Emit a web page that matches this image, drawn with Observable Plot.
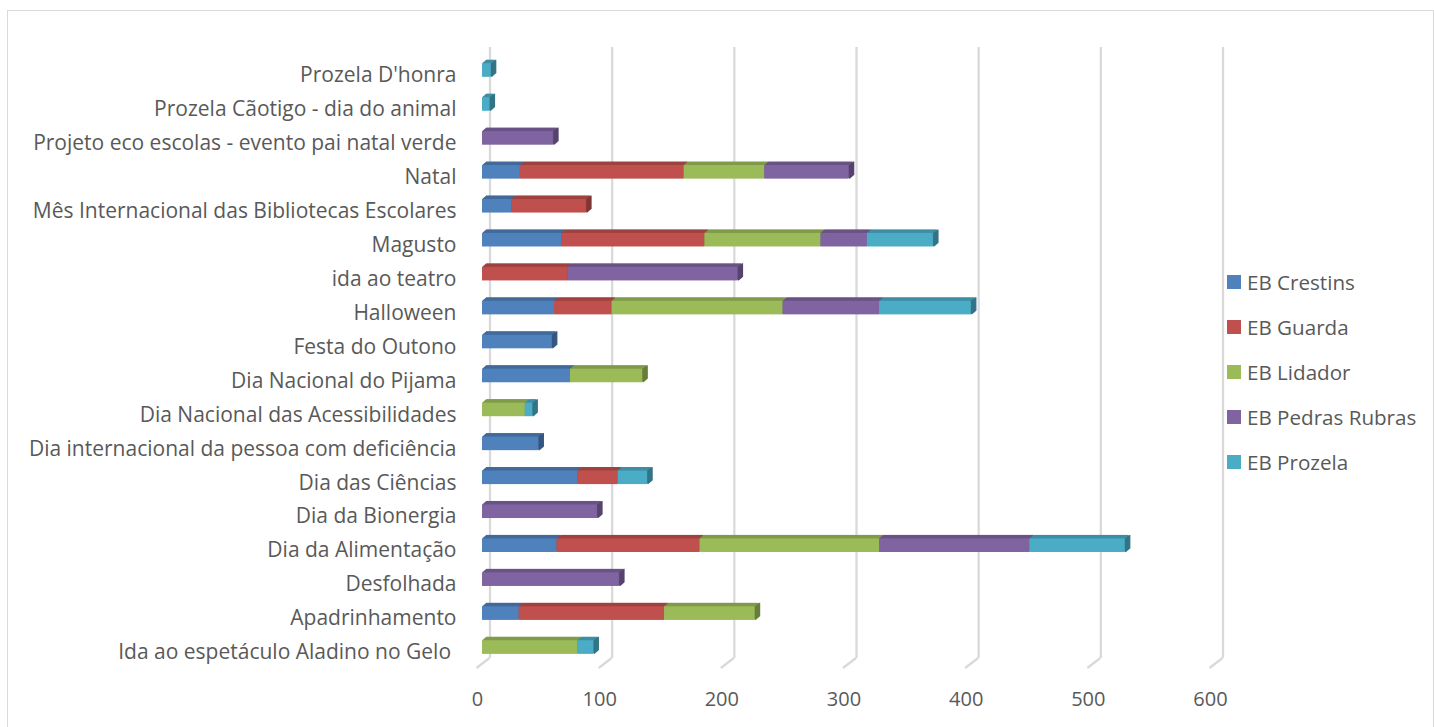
<!DOCTYPE html>
<html><head><meta charset="utf-8">
<script src="https://cdn.jsdelivr.net/npm/d3@7"></script>
<script src="https://cdn.jsdelivr.net/npm/@observablehq/plot@0.6"></script>
<style>
html,body{margin:0;padding:0;background:#fff;overflow:hidden;}
#wrap{position:relative;width:1434px;height:727px;font-family:"Open Sans",sans-serif;color:#595959;}
#frame{position:absolute;left:7px;top:10px;width:1427px;height:730px;border:1px solid #d9d9d9;box-sizing:border-box;}
#chart{position:absolute;left:0;top:0;}
#legend{position:absolute;left:1227px;top:0;}
.item{position:absolute;left:0;white-space:nowrap;display:flex;align-items:center;height:30px;font-size:20.6px;}
.sw{width:14px;height:14px;margin-right:6px;flex:none;}
</style></head>
<body><div id="wrap"><div id="frame"></div><div id="chart"></div><div id="legend"></div></div>
<script>
const categories = [
  "Prozela D'honra",
  "Prozela Cãotigo - dia do animal",
  "Projeto eco escolas - evento pai natal verde",
  "Natal",
  "Mês Internacional das Bibliotecas Escolares",
  "Magusto",
  "ida ao teatro",
  "Halloween",
  "Festa do Outono",
  "Dia Nacional do Pijama",
  "Dia Nacional das Acessibilidades",
  "Dia internacional da pessoa com deficiência",
  "Dia das Ciências",
  "Dia da Bionergia",
  "Dia da Alimentação",
  "Desfolhada",
  "Apadrinhamento",
  "Ida ao espetáculo Aladino no Gelo\u00a0"
];
const ebCrestins     = [0, 0,  0,  31, 24,  65,   0,  59, 57, 72,  0, 46, 78,  0,  61,   0,  30,  0];
const ebGuarda       = [0, 0,  0, 134, 61, 117,  70,  47,  0,  0,  0,  0, 33,  0, 117,   0, 119,  0];
const ebLidador      = [0, 0,  0,  66,  0,  95,   0, 140,  0, 59, 35,  0,  0,  0, 147,   0,  74, 78];
const ebPedrasRubras = [0, 0, 58,  69,  0,  38, 139,  79,  0,  0,  0,  0,  0, 94, 123, 112,   0,  0];
const ebProzela      = [7, 6,  0,   0,  0,  54,   0,  75,  0,  0,  6,  0, 24,  0,  78,   0,   0, 13];

const seriesNames  = ["EB Crestins", "EB Guarda", "EB Lidador", "EB Pedras Rubras", "EB Prozela"];
const seriesValues = [ebCrestins, ebGuarda, ebLidador, ebPedrasRubras, ebProzela];
const seriesColors = ["#4F81BD", "#C0504D", "#9BBB59", "#8064A2", "#4BACC6"];
const xTicks = [0, 100, 200, 300, 400, 500, 600];

// stacked segments
const cum = categories.map(() => 0);
const lastSeries = categories.map((c, i) => {
  let last = -1;
  seriesValues.forEach((vals, s) => { if (vals[i] > 0) last = s; });
  return last;
});
const segmentsBySeries = seriesValues.map((vals, s) => {
  const segs = [];
  vals.forEach((v, i) => {
    if (v > 0) {
      segs.push({cat: categories[i], x1: cum[i], x2: cum[i] + v, last: lastSeries[i] === s});
      cum[i] += v;
    }
  });
  return segs;
});

function floorMark(index, scales, values, dims) {
  const g = d3.create("svg:g").attr("stroke", "#d9d9d9").attr("stroke-width", 2.25).attr("fill", "none");
  const yb = dims.height - dims.marginBottom;
  for (const t of xTicks) {
    const x = scales.x(t);
    g.append("line").attr("x1", x + 7.5).attr("y1", yb - 6).attr("x2", x - 5.5).attr("y2", yb + 4);
  }
  return g.node();
}

const marks = [
  Plot.ruleX(xTicks, {x: d => d, dx: 7.5, dy: -6, stroke: "#d9d9d9", strokeWidth: 2.25}),
  floorMark
];
const steps = [0.5, 1, 1.5, 2, 2.5, 3, 3.5];
segmentsBySeries.forEach((segs, s) => {
  const base = d3.color(seriesColors[s]);
  const top = base.darker(0.55).formatHex();
  const side = base.darker(1.1).formatHex();
  for (const k of steps) {
    marks.push(Plot.barX(segs, {x1: "x1", x2: "x2", y: "cat", fill: top, dx: k * 1.15, dy: -k}));
  }
  const ends = segs.filter(d => d.last);
  for (const k of [0, ...steps]) {
    marks.push(Plot.tickX(ends, {x: "x2", y: "cat", stroke: side, strokeWidth: 1.3, dx: 0.6 + k * 1.15, dy: -k}));
  }
  marks.push(Plot.barX(segs, {x1: "x1", x2: "x2", y: "cat", fill: seriesColors[s]}));
});
marks.push(Plot.axisY({tickSize: 0, tickPadding: 26, dy: 5, label: null, fontSize: 21}));
marks.push(Plot.axisX({ticks: xTicks, tickSize: 0, tickPadding: 27, dx: -5, label: null, tickFormat: d => String(d)}));

const chart = Plot.plot({
  width: 1434,
  height: 727,
  marginLeft: 482,
  marginRight: 219,
  marginTop: 53,
  marginBottom: 63,
  style: {fontFamily: '"Open Sans", sans-serif', fontSize: "20px", color: "#595959", background: "transparent", overflow: "visible"},
  x: {domain: [0, 600], axis: null},
  y: {domain: categories, paddingInner: 0.6, paddingOuter: 0.3, round: false, axis: null},
  marks
});
document.getElementById("chart").appendChild(chart);

const legend = document.getElementById("legend");
const legendTop = 267;
const legendStep = 45;
seriesNames.forEach((name, i) => {
  const item = document.createElement("div");
  item.className = "item";
  item.style.top = (legendTop + i * legendStep) + "px";
  const sw = document.createElement("span");
  sw.className = "sw";
  sw.style.background = seriesColors[i];
  const tx = document.createElement("span");
  tx.textContent = name;
  item.appendChild(sw);
  item.appendChild(tx);
  legend.appendChild(item);
});
</script>
</body></html>
